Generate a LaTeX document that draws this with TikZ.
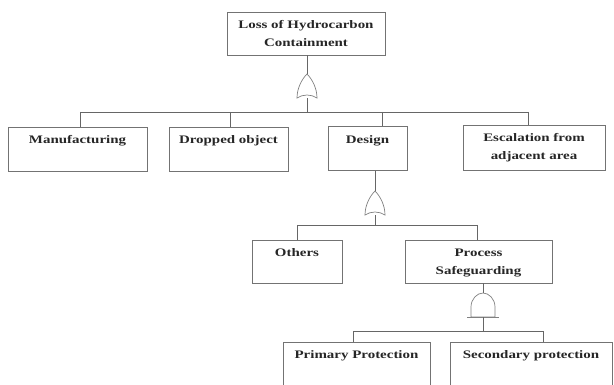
\documentclass[tikz,border=0pt]{standalone}
\usepackage{fontspec}
\setmainfont{Liberation Serif}
\newfontfamily\lblfont[FakeStretch=1.3]{Liberation Serif}
\begin{document}
\begin{tikzpicture}[x=1pt,y=-1pt,
  line/.style={draw=black!60, line width=0.8pt},
  gline/.style={draw=black!50, line width=0.7pt},
  box/.style={draw=black!55, line width=0.8pt, rectangle, inner sep=0pt},
  txt/.style={font=\lblfont\bfseries\fontsize{11.5}{18}\selectfont, text=black!85, align=center, inner sep=0pt, anchor=north, yshift=-9pt},
  gatenode/.style={inner sep=0pt, minimum width=22pt, minimum height=24pt},
  orgate/.pic={\draw[gline] (-10,12) .. controls (-10,2) and (-5,-7) .. (0,-12) .. controls (5,-7) and (10,2) .. (10,12) .. controls (4,8) and (-4,8) .. cycle;},
  andgate/.pic={\draw[gline] (-12,12) -- (-12,2) .. controls (-12,-6) and (-6,-12) .. (0,-12) .. controls (6,-12) and (12,-6) .. (12,2) -- (12,12) -- cycle;
                \draw[gline] (-16,12) -- (16,12);}
]
\useasboundingbox (0,0) rectangle (614,385);

% top event
\node[box, minimum width=158pt, minimum height=43pt,
  label={[txt]north:Loss of Hydrocarbon\\Containment}] (top) at (306,33.5) {};

% gate 1
\node[gatenode] (g1) at (307,86) {};
\pic at (307,86) {orgate};

% level 2
\node[box, minimum width=139pt, minimum height=44pt, label={[txt]north:Manufacturing}] (man) at (77.5,149) {};
\node[box, minimum width=119pt, minimum height=44pt, label={[txt]north:Dropped object}] (drop) at (228.5,149) {};
\node[box, minimum width=79pt, minimum height=44pt, label={[txt]north:Design}] (des) at (367.5,148.5) {};
\node[box, minimum width=142pt, minimum height=45pt, label={[txt]north:Escalation from\\adjacent area}] (esc) at (534,147.5) {};

\coordinate (b1l) at (80,112);
\coordinate (b1r) at (528,112);
\coordinate (b1d) at (230,112);
\coordinate (b1s) at (382,112);
\draw[line] (top.south -| g1) -- (g1.north);
\draw[line] (g1.south) -- (g1.south |- b1l);
\draw[line] (b1l) -- (b1r);
\draw[line] (b1l) -- (b1l |- man.north);
\draw[line] (b1d) -- (b1d |- drop.north);
\draw[line] (b1s) -- (b1s |- des.north);
\draw[line] (b1r) -- (b1r |- esc.north);

% gate 2
\node[gatenode] (g2) at (375,203) {};
\pic at (375,203) {orgate};
\draw[line] (des.south -| g2) -- (g2.north);

% level 3
\node[box, minimum width=90pt, minimum height=43pt, label={[txt]north:Others}] (oth) at (297,261.5) {};
\node[box, minimum width=147pt, minimum height=43pt, label={[txt]north:Process\\Safeguarding}] (proc) at (478.5,261.5) {};

\coordinate (b2l) at (297,225);
\coordinate (b2r) at (477,225);
\draw[line] (g2.south) -- (g2.south |- b2l);
\draw[line] (b2l) -- (b2r);
\draw[line] (b2l) -- (oth.north);
\draw[line] (b2r) -- (b2r |- proc.north);

% gate 3
\node[gatenode] (g3) at (483,305) {};
\pic at (483,305) {andgate};
\draw[line] (proc.south -| g3) -- (g3.north);

% level 4
\node[box, minimum width=147pt, minimum height=44pt, label={[txt]north:Primary Protection}] (prim) at (356.5,364) {};
\node[box, minimum width=162pt, minimum height=44pt, label={[txt]north:Secondary protection}] (sec) at (531,364) {};

\coordinate (b3l) at (353,331);
\coordinate (b3r) at (543,331);
\draw[line] (g3.south) -- (g3.south |- b3l);
\draw[line] (b3l) -- (b3r);
\draw[line] (b3l) -- (b3l |- prim.north);
\draw[line] (b3r) -- (b3r |- sec.north);
\end{tikzpicture}
\end{document}
